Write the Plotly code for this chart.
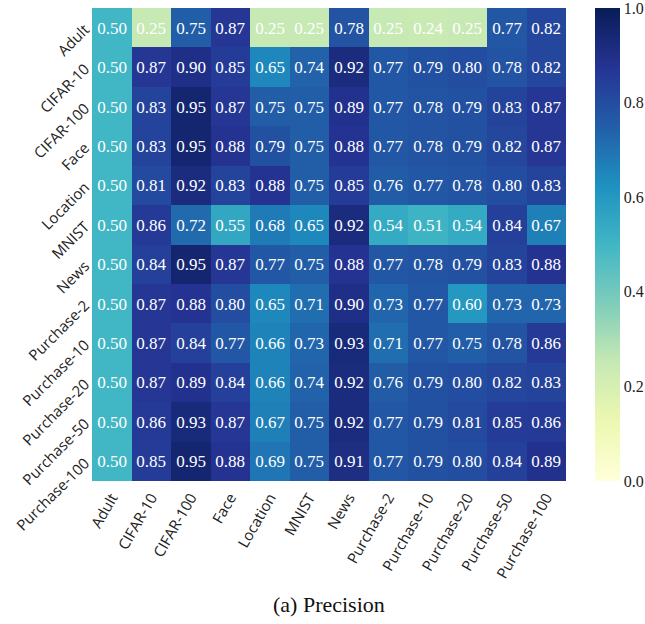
import plotly.graph_objects as go

labels = ["Adult", "CIFAR-10", "CIFAR-100", "Face", "Location", "MNIST", "News",
          "Purchase-2", "Purchase-10", "Purchase-20", "Purchase-50", "Purchase-100"]

row_adult = [0.50, 0.25, 0.75, 0.87, 0.25, 0.25, 0.78, 0.25, 0.24, 0.25, 0.77, 0.82]
row_cifar10 = [0.50, 0.87, 0.90, 0.85, 0.65, 0.74, 0.92, 0.77, 0.79, 0.80, 0.78, 0.82]
row_cifar100 = [0.50, 0.83, 0.95, 0.87, 0.75, 0.75, 0.89, 0.77, 0.78, 0.79, 0.83, 0.87]
row_face = [0.50, 0.83, 0.95, 0.88, 0.79, 0.75, 0.88, 0.77, 0.78, 0.79, 0.82, 0.87]
row_location = [0.50, 0.81, 0.92, 0.83, 0.88, 0.75, 0.85, 0.76, 0.77, 0.78, 0.80, 0.83]
row_mnist = [0.50, 0.86, 0.72, 0.55, 0.68, 0.65, 0.92, 0.54, 0.51, 0.54, 0.84, 0.67]
row_news = [0.50, 0.84, 0.95, 0.87, 0.77, 0.75, 0.88, 0.77, 0.78, 0.79, 0.83, 0.88]
row_p2 = [0.50, 0.87, 0.88, 0.80, 0.65, 0.71, 0.90, 0.73, 0.77, 0.60, 0.73, 0.73]
row_p10 = [0.50, 0.87, 0.84, 0.77, 0.66, 0.73, 0.93, 0.71, 0.77, 0.75, 0.78, 0.86]
row_p20 = [0.50, 0.87, 0.89, 0.84, 0.66, 0.74, 0.92, 0.76, 0.79, 0.80, 0.82, 0.83]
row_p50 = [0.50, 0.86, 0.93, 0.87, 0.67, 0.75, 0.92, 0.77, 0.79, 0.81, 0.85, 0.86]
row_p100 = [0.50, 0.85, 0.95, 0.88, 0.69, 0.75, 0.91, 0.77, 0.79, 0.80, 0.84, 0.89]

z = [row_adult, row_cifar10, row_cifar100, row_face, row_location, row_mnist,
     row_news, row_p2, row_p10, row_p20, row_p50, row_p100]

colorbar_ticks = [0.0, 0.2, 0.4, 0.6, 0.8, 1.0]
colorbar_ticktext = ["0.0", "0.2", "0.4", "0.6", "0.8", "1.0"]

ylgnbu = [
    [0.0, "rgb(255,255,217)"], [0.125, "rgb(237,248,177)"], [0.25, "rgb(199,233,180)"],
    [0.375, "rgb(127,205,187)"], [0.5, "rgb(65,182,196)"], [0.625, "rgb(29,145,192)"],
    [0.75, "rgb(34,94,168)"], [0.875, "rgb(37,52,148)"], [1.0, "rgb(8,29,88)"],
]

serif = "Liberation Serif"

fig = go.Figure(go.Heatmap(
    z=z, x=labels, y=labels,
    zmin=0, zmax=1,
    colorscale=ylgnbu,
    texttemplate="%{z:.2f}",
    textfont=dict(family=serif, size=17, color="white"),
    xgap=0, ygap=0,
    colorbar=dict(
        x=1.061, xanchor="left", y=0.5, yanchor="middle", len=1.0, lenmode="fraction",
        thickness=25, outlinewidth=0, ypad=0, xpad=0,
        tickmode="array", tickvals=colorbar_ticks, ticktext=colorbar_ticktext,
        ticklabeloverflow="allow",
        ticks="", tickfont=dict(family=serif, size=16, color="#222"),
    ),
))

fig.update_layout(
    width=645, height=624,
    margin=dict(l=92, r=79, t=8, b=143, autoexpand=False),
    plot_bgcolor="white", paper_bgcolor="white",
    xaxis=dict(tickangle=-60, tickfont=dict(family="Open Sans", size=15, color="#222"),
               showgrid=False, zeroline=False, ticks="", showline=False,
               ticklabelstandoff=4),
    yaxis=dict(tickangle=-45, autorange="reversed",
               tickfont=dict(family="Open Sans", size=15, color="#222"),
               showgrid=False, zeroline=False, ticks="", showline=False,
               ticklabelstandoff=6),
    annotations=[dict(text="(a) Precision", x=0.5, y=-0.262, xref="paper", yref="paper",
                      xanchor="center", yanchor="middle", showarrow=False,
                      font=dict(family=serif, size=22, color="#111"))],
)

fig.write_html("out.html", config={"displayModeBar": False},
               post_script="document.body.style.margin='0';document.body.style.overflow='hidden';")
